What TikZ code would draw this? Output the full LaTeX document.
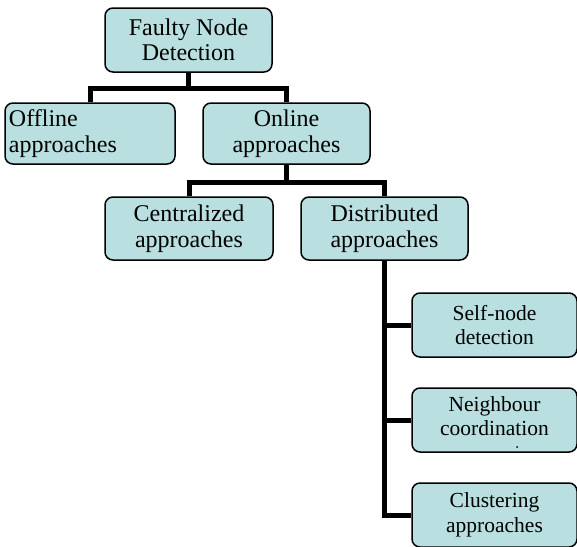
\documentclass[tikz,border=0pt]{standalone}
\usepackage{fontspec}
\setmainfont{Liberation Serif}
\definecolor{boxfill}{HTML}{B9DFE0}
\begin{document}
\begin{tikzpicture}[x=1pt,y=-1pt,
  box/.style={draw=black,line width=1.5pt,rounded corners=8pt,fill=boxfill,
    align=center,inner sep=0pt,font=\fontsize{24}{25.5}\selectfont},
  smallbox/.style={box,font=\fontsize{21.5}{24.5}\selectfont,
    minimum width=165pt,minimum height=64pt},
  conn/.style={line width=5pt,line join=miter,line cap=butt}]
\useasboundingbox (0,0) rectangle (577,546);
\node[box,minimum width=167pt,minimum height=64pt] (top) at (188.5,40) {Faulty Node\\Detection};
\node[box,minimum width=170pt,minimum height=61pt,text width=162pt,align=left] (off) at (90,133.5) {Offline\\approaches};
\node[box,minimum width=167pt,minimum height=61pt] (on) at (286.5,133.5) {Online\\approaches};
\node[box,minimum width=168pt,minimum height=63pt] (cen) at (189,228.5) {Centralized\\approaches};
\node[box,minimum width=167pt,minimum height=63pt] (dist) at (384.5,228.5) {Distributed\\approaches};
\node[smallbox] (self) at (494.5,325) {Self-node\\detection};
\node[smallbox,text depth=8pt] (nb) at (494.5,420) {Neighbour\\coordination};
\node[smallbox] (clus) at (494.5,515) {Clustering\\approaches};
\coordinate (j1) at (188.5,88);
\coordinate (j2) at (286.5,182);
\coordinate (dot) at (517,447);
\fill (dot) circle (1pt);
\draw[conn] (top.south) -- (j1);
\draw[conn] (off.north) |- (j1) -| (on.north);
\draw[conn] (on.south) -- (j2);
\draw[conn] (cen.north) |- (j2) -| (dist.north);
\draw[conn] (dist.south) |- (clus.west);
\draw[conn] (self.west -| dist.south) -- (self.west);
\draw[conn] (nb.west -| dist.south) -- (nb.west);
\end{tikzpicture}
\end{document}
